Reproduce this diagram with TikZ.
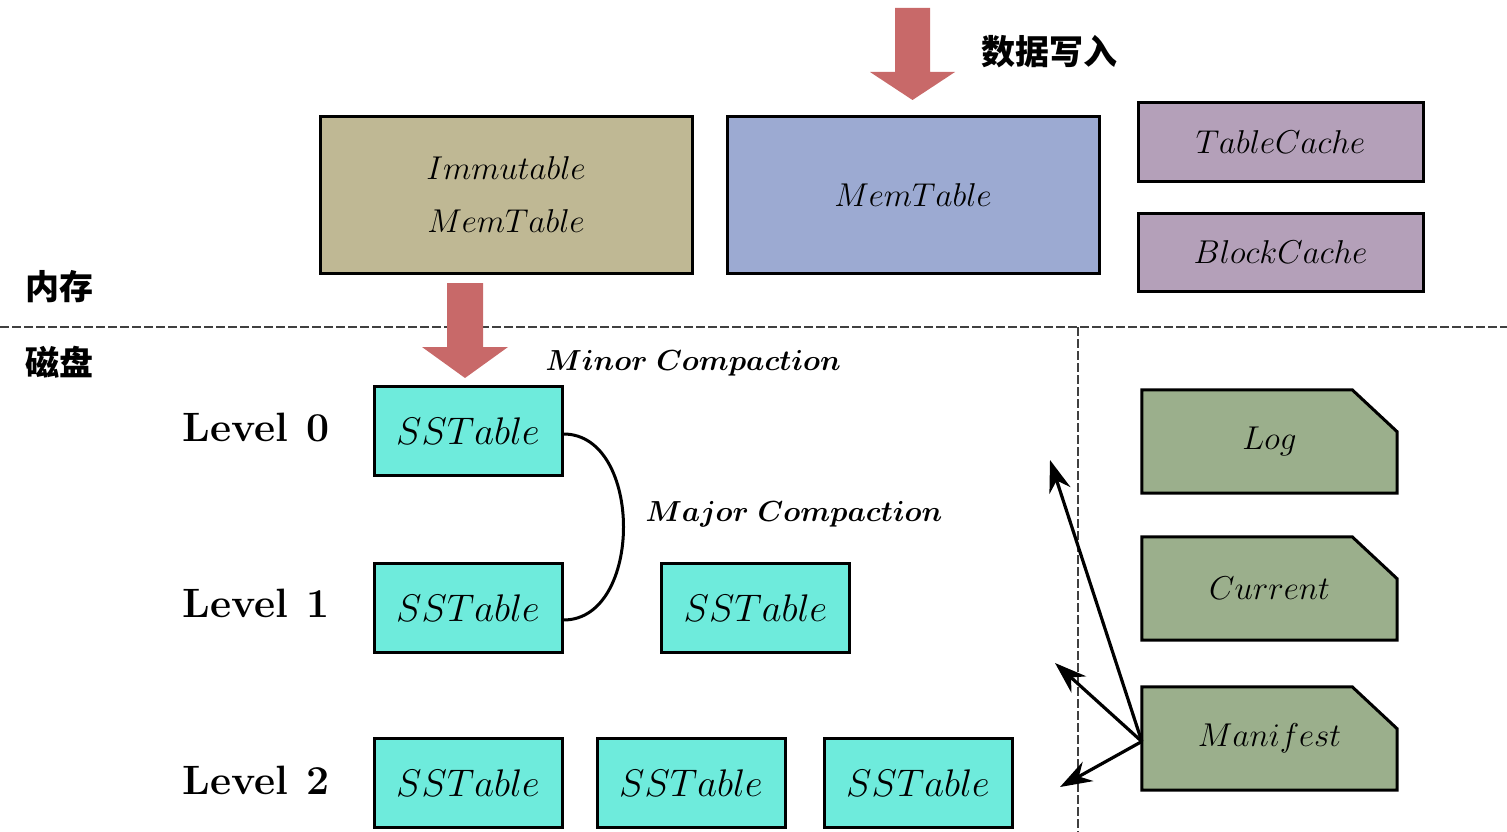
\RequirePackage{fix-cm}
\documentclass[tikz,border=0pt]{standalone}
\usepackage{fontspec}
\newfontfamily\cjk{Noto Sans CJK SC}
\usetikzlibrary{arrows.meta,backgrounds}
\definecolor{tanc}{HTML}{BFB894}
\definecolor{memc}{HTML}{9CAAD2}
\definecolor{cachec}{HTML}{B4A0B9}
\definecolor{ssc}{HTML}{6EEBDC}
\definecolor{docc}{HTML}{9BAF8C}
\definecolor{fatc}{HTML}{C86969}
\begin{document}
\begin{tikzpicture}[x=1pt,y=-1pt,
  box/.style={draw=black, line width=3pt, inner sep=0pt, font=\fontsize{33}{53}\selectfont, align=center},
  bigbox/.style={box, minimum width=372pt, minimum height=156pt},
  cachebox/.style={box, fill=cachec, minimum width=285pt, minimum height=78pt},
  ssbox/.style={box, fill=ssc, minimum width=188pt, minimum height=89pt, font=\fontsize{38.5}{45}\selectfont},
  docbox/.style={inner sep=0pt, minimum width=255pt, minimum height=103pt, font=\fontsize{33}{40}\selectfont},
  docshape/.style={draw=black, line width=3pt, fill=docc, line join=miter},
  fat/.style={fill=fatc, draw=none},
  lvl/.style={font=\fontsize{41}{48}\selectfont\bfseries},
  cn/.style={font=\fontsize{34}{40}\selectfont\cjk\bfseries},
  comp/.style={font=\fontsize{29}{34}\selectfont\boldmath},
  sep/.style={draw=black!75, line width=2pt, dash pattern=on 9pt off 3pt},
  ptr/.style={line width=3.2pt, -{Stealth[length=32pt,width=22pt]}}
]
\useasboundingbox (0,0) rectangle (1507,832);

% memory boxes
\node[bigbox, fill=tanc] (imm) at (506,195) {$Immutable$\\$MemTable$};
\node[bigbox, fill=memc] (mem) at (913,195) {$MemTable$};
\node[cachebox] (tc) at (1280.5,142) {$TableCache$};
\node[cachebox] (bc) at (1280.5,252) {$BlockCache$};

% write arrow
\coordinate (wtop) at (912.5,8);
\path[fat] (wtop) ++(-17.5,0) -- ++(35,0) -- ++(0,64) -- ++(25,0) -- (912.5,100) -- (870,72) -- (895,72) -- cycle;
\node[cn, anchor=west] (write) at (978,52) {数据写入};

% labels
\node[cn, anchor=west] (memlbl) at (22,287) {内存};
\node[cn, anchor=west] (disklbl) at (22,362) {磁盘};

% separators
\coordinate (hl) at (0,327);
\coordinate (hr) at (1507,327);
\coordinate (vt) at (1078,327);
\coordinate (vb) at (1078,832);
\draw[sep] (hl) -- (hr);
\draw[sep] (vt) -- (vb);

% minor compaction arrow
\path[fat] (447,283) -- (483,283) -- (483,347) -- (508,347) -- (465,378) -- (422,347) -- (447,347) -- cycle;
\node[comp, anchor=west] (minor) at (542,363) {$Minor\ Compaction$};

% levels
\node[lvl] (l0) at (256,428) {Level\hspace{0.45em}0};
\node[lvl] (l1) at (256,603) {Level\hspace{0.45em}1};
\node[lvl] (l2) at (256,780) {Level\hspace{0.45em}2};

\node[ssbox] (s0) at (468,431) {$SSTable$};
\node[ssbox] (s1a) at (468,608) {$SSTable$};
\node[ssbox] (s1b) at (755.5,608) {$SSTable$};
\node[ssbox] (s2a) at (468,783) {$SSTable$};
\node[ssbox] (s2b) at (691,783) {$SSTable$};
\node[ssbox] (s2c) at (918,783) {$SSTable$};

\draw[line width=3pt] ([yshift=-3]s0.east) .. controls +(80,0) and +(80,0) .. ([yshift=-12]s1a.east);
\node[comp, anchor=west] (major) at (642,514) {$Major\ Compaction$};

% docs
\node[docbox] (log) at (1269.5,441.5) {$Log$};
\node[docbox] (cur) at (1269.5,588.5) {$Current$};
\node[docbox] (man) at (1269.5,738.5) {$Manifest$};
\begin{scope}[on background layer]
\foreach \d in {log,cur,man}{
  \draw[docshape] (\d.south west) -- (\d.north west) -- ([xshift=-45pt]\d.north east) -- ([yshift=-42pt]\d.north east) -- (\d.south east) -- cycle;
}
\end{scope}

\coordinate (p1) at (1050,460);
\coordinate (p2) at (1055,663);
\coordinate (p3) at (1060,787);
\draw[ptr] ([yshift=-3]man.west) -- (p1);
\draw[ptr] ([yshift=-3]man.west) -- (p2);
\draw[ptr] ([yshift=-3]man.west) -- (p3);
\end{tikzpicture}
\end{document}
